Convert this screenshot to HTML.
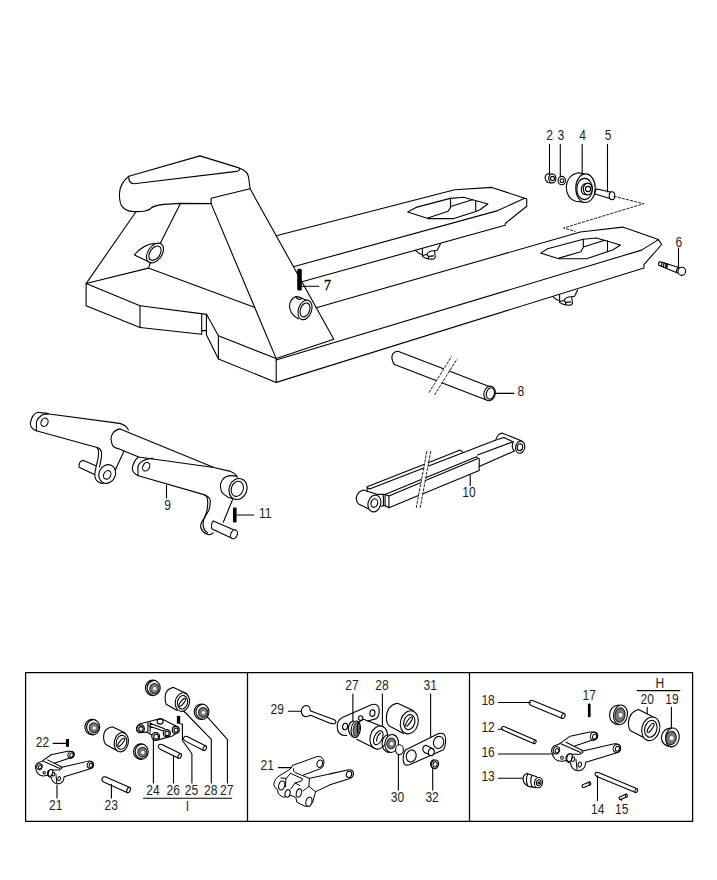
<!DOCTYPE html>
<html><head><meta charset="utf-8">
<style>
html,body{margin:0;padding:0;background:#fff;width:717px;height:880px;overflow:hidden}
svg{display:block}
.l{fill:none;stroke:#000;stroke-width:1.1;stroke-linejoin:round;stroke-linecap:round}
.t{font-family:"Liberation Sans",sans-serif;font-size:14px;fill:#1e1e1e}
.s{font-family:"Liberation Serif",serif;font-size:14px;fill:#1e1e1e}
.d{fill:none;stroke:#222;stroke-width:1;stroke-dasharray:2.4 1.8}
</style></head><body>
<svg width="717" height="880" viewBox="0 0 717 880">
<g id="truck" class="l">
<!-- handle -->
<path d="M128.8,176.3 L199.9,155.9 L239,167.9 Q248,171 248.5,177 L250.1,188.8"/>
<path d="M128.8,176.3 Q128.2,183.3 134,183.8 L236.8,171.4 Q241,170 239.2,168.3"/>
<path d="M128.8,176.3 Q120,183 119.4,194 Q119.5,205 123,207.5 Q127,211.5 134.5,211.6 Q146,212 150,209 Q153,205.5 163.7,204.4 L180.4,203.4 L211.1,203.6"/>
<path d="M211.1,203.6 L211.1,198.3 L250.1,188.8"/>
<!-- left pillar -->
<path d="M135.8,212 L86.1,283.6"/>
<path d="M180.4,203.6 L159.9,244.1"/>
<path d="M154.3,243.4 Q143,244.5 134.4,254.9 L148.7,261.8"/>
<ellipse cx="155" cy="253" rx="7" ry="11" transform="rotate(35 155 253)" fill="#fff"/>
<ellipse cx="155" cy="253.2" rx="5" ry="8" transform="rotate(35 155 253.2)"/>
<path d="M150.5,262.5 L148.4,268.1"/>
<!-- right pillar -->
<path d="M211.1,203.6 L276.2,358.6"/>
<path d="M250.1,188.8 L333.8,339.2 L276.2,358.6"/>
<!-- base block -->
<path d="M86.1,283.5 L148.3,268.1 L254.3,307.2"/>
<path d="M86.1,283.5 L86.1,305.8 L140,327.5 L140,305.8 L86.1,283.5"/>
<path d="M140,305.8 L206.6,314.4 M201.7,313.7 L201.7,334.3 L140,327.5"/>
<path d="M206.4,314.4 L206.4,334.7 L218.4,359 L218.4,335.8 L206.6,314.4 M201.7,330.6 L206.4,330.6"/>
<path d="M218.4,335.8 L276.2,358.6 M218.4,359 L276.2,382.4 L276.2,358.6"/>
<!-- back fork -->
<path d="M276.2,235.8 L454.7,189.8 L491.8,187.4 L524.6,198.3 L526.7,198.8 L526.7,206.2 L505.5,223.2 L505.1,225.3 L302,281.7"/>
<path d="M294.2,266.5 L497.8,210.6 L524.6,198.3"/>
<path d="M407.7,212 L416,207.4 L450.2,198.4 L463.5,197.3 L487.9,204 L480.2,209.5 L476,211.6 L453.7,218.6 L427.9,218.6 Z"/>
<path d="M427.9,217.9 L448.1,211.2 L450.5,207.4 L450.5,198.4 M450.5,206.5 L472.5,199.8 M475.7,200.5 L475.7,211.6"/>
<!-- front fork -->
<path d="M316.3,307.8 L580.3,232 L622.7,227.1 L658.4,239.6 L661.7,244.5 L643.9,264.6 L643.9,268 L276.3,382.4"/>
<path d="M276.2,360 L641.6,250.1 L658.4,239.6"/>
<path d="M540.6,253.1 L547.6,248.7 L583.3,239.3 L596.5,238 L620.4,245 L612.8,250 L607.2,251.8 L586.5,258.8 L558.8,258.8 Z"/>
<path d="M558.8,258.1 L580.8,251.8 L583.3,247.5 L583.3,239.3 M583.3,247.1 L604.7,240.3 M607.5,240.6 L607.5,251.8"/>
<!-- wheel brackets -->
<path d="M415.6,250.6 Q419,254 422.4,254.7 M422.4,248.6 L422.4,256.4 Q425,258.5 428.4,258.9 L433.4,259.2 Q436,257.5 435.1,255.9 L434.5,250.8 L437.3,250.3 L440.4,244.1 M422.4,255.5 L426.7,254.5 Q429,250.5 434.5,250.8 M426.7,254.5 Q429,256 428.4,258.9 M429,256.4 L433.4,255.9"/>
<path transform="translate(137.2,46)" d="M415.6,250.6 Q419,254 422.4,254.7 M422.4,248.6 L422.4,256.4 Q425,258.5 428.4,258.9 L433.4,259.2 Q436,257.5 435.1,255.9 L434.5,250.8 L437.3,250.3 L440.4,244.1 M422.4,255.5 L426.7,254.5 Q429,250.5 434.5,250.8 M426.7,254.5 Q429,256 428.4,258.9 M429,256.4 L433.4,255.9"/>
<!-- hole on right pillar -->
<path d="M309.3,301.5 L302.3,298.4 Q299,296.5 296,296.6 Q290.5,298 289.4,306 Q290,315 298.8,318.9"/>
<path d="M296,296.6 Q296,298.5 298.5,299.3 Q301,299.5 302.3,298.4"/>
<ellipse cx="305" cy="309.9" rx="6.6" ry="10.1" transform="rotate(20 305 309.9)" fill="#fff"/>
<ellipse cx="305" cy="309.9" rx="4.6" ry="7.2" transform="rotate(20 305 309.9)"/>
</g>

<g id="parts" class="l">
<!-- part 2 nut -->
<path d="M550,173.9 L547.3,173.9 Q545,175 545,177.8 Q545.3,181 547.8,182.5 L551,182.9"/>
<ellipse cx="552.3" cy="178.4" rx="3.6" ry="4.5" fill="#fff"/>
<circle cx="552.5" cy="178.5" r="2.1"/>
<!-- part 3 washer -->
<ellipse cx="561.8" cy="180.6" rx="3.7" ry="4.2"/>
<circle cx="562" cy="180.7" r="1.9"/>
<!-- part 4 wheel -->
<path d="M584,173.9 L577.9,172.8 Q567,175 566.2,187.3 Q567,199 575.7,201.3 L585,202.4"/>
<ellipse cx="585.5" cy="188.2" rx="9.75" ry="14.3" fill="#fff"/>
<ellipse cx="584.6" cy="189" rx="7.8" ry="10.6"/>
<ellipse cx="587.8" cy="189" rx="4.5" ry="5.9"/>
<path d="M586.5,183.2 Q581.5,184 581.3,189.5 Q581.5,195 586.5,194.8"/>
<circle cx="588" cy="189" r="2.6"/>
<!-- part 5 axle -->
<path d="M596.9,189 L611.4,192.3 M595.2,194 L609.7,198.5 M596.9,189 Q594,191 595.2,194"/>
<ellipse cx="612" cy="195.7" rx="2.8" ry="3.9" fill="#fff"/>
<!-- dashed -->
<path class="d" d="M614,196.3 L643.8,203.7 L563.5,228 L575.2,231.3"/>
<!-- part 6 bolt -->
<path d="M660.1,261.8 L679,267.5 M658.8,265.2 L677.5,273 M660.1,261.8 Q658,262.5 658.8,265.2"/>
<path d="M662.2,262.3 L661.3,266 M664.2,262.9 L663.3,266.8 M666.3,263.5 L665.4,267.7 M667.5,263.9 L666.8,268.2" style="stroke-width:1.2"/>
<path d="M679,267.3 Q676,268.5 676.6,272.5"/>
<ellipse cx="681.8" cy="271.3" rx="3.8" ry="4.1" fill="#fff"/>
<!-- part 8 pipe -->
<path d="M397.9,351.2 Q391,352 392,359 Q393,363 394.5,364.5"/>
<path d="M397.9,351.2 L443.5,368.8 M449.2,371 L490.5,387 M394.5,364.5 L436,380.5 M441.7,382.7 L487.1,400.3"/>
<path class="d" d="M429.1,392.4 L451.4,356.7 M434.7,394.7 L457,359" stroke-dasharray="3 1.5"/>
<ellipse cx="489.6" cy="393.4" rx="5.6" ry="7.4" transform="rotate(15 489.6 393.4)" fill="#fff"/>
<ellipse cx="490.4" cy="393.4" rx="4" ry="5.8" transform="rotate(15 490.4 393.4)"/>
<!-- part 9 lever -->
<path d="M47.3,413.4 L37.8,412.3 Q32,414 30.3,423.4 Q30.5,428.5 36.2,430.7"/>
<path d="M48.4,413.9 Q42,414 40.6,416.2 Q36.5,419 36.4,422.9 L36.4,430.7"/>
<ellipse cx="44.5" cy="422.3" rx="3.4" ry="4.3" transform="rotate(28 44.5 422.3)"/>
<path d="M47.3,413.7 L119.6,423.4 Q126,425 128.4,430"/>
<path d="M36.2,430.7 L96.3,447.3 Q100,448 101.2,451 Q102,454 101.3,458.1 L99.6,467"/>
<path d="M97.2,448.2 Q98.8,450 98.6,452.5 L98.1,458.1 L95.8,468.1 Q94.5,474 94.9,476 Q95.5,480.5 98.5,482 Q101,483.5 103,483.5"/>
<path d="M83.6,460.4 L95.8,465.8 M79.1,467.2 L94.5,474.5 M83.6,460.4 Q81,460.5 79.8,462.5 Q78.5,465.5 79.1,467.2"/>
<ellipse cx="107.2" cy="474" rx="8.2" ry="9.6" transform="rotate(25 107.2 474)" fill="#fff"/>
<ellipse cx="107.2" cy="474.9" rx="3.5" ry="4.5" transform="rotate(30 107.2 474.9)"/>
<path d="M115.3,469.9 L123.9,451.3"/>
<!-- tube -->
<path d="M120.1,428.9 Q112.5,430 111,438 Q111.5,445 113.5,446.5 Q115,448 118,448.6 L137.5,456.5"/>
<path d="M120.1,428.9 L213.9,467.5 L230.5,471.4 Q236,473.5 237.4,477.2"/>
<path d="M236.5,476.2 Q226,474 222.2,480.3 Q219.8,484 220.5,487.3 Q221,492.5 224,494.3 Q228,498 232.3,498.5"/>
<ellipse cx="238" cy="489" rx="8.9" ry="10.7" transform="rotate(20 238 489)" fill="#fff"/>
<ellipse cx="237.3" cy="488.8" rx="5.9" ry="7.8" transform="rotate(20 237.3 488.8)"/>
<!-- right lever -->
<path d="M138.4,457 Q133.5,461 132.3,468.4 Q132.5,473 138.4,475.7"/>
<path d="M152.9,458.4 Q146,459 143.4,460.6 Q138,463.5 137.8,467.9 L138.1,475.4"/>
<ellipse cx="146.2" cy="466.7" rx="3.3" ry="4.5" transform="rotate(28 146.2 466.7)"/>
<path d="M138.4,457 L213.9,467.5"/>
<path d="M138.4,475.7 L203.9,494.6 Q209.5,497 210.2,500 Q210.5,505 208.9,510.3 L202,521.6 Q200.3,525 200.8,527.5 Q202,532.5 208,534.5 Q211,535 213.3,532.9"/>
<path d="M203.9,494.6 Q206.5,496 207,497.7 Q208,501 207.7,504 Q207.5,509 206.4,512.8 L203.8,519.5 Q202.8,523 203.3,526.6 Q204,530.5 207.7,532.9"/>
<path d="M232.8,499 L223.3,522.2"/>
<path d="M213.3,520.9 L235.3,530.4 M212,529.1 L231.5,537.9 M213.3,520.9 Q210.5,524 212,529.1"/>
<ellipse cx="234" cy="534.3" rx="3.2" ry="4.6" transform="rotate(25 234 534.3)" fill="#fff"/>
<!-- part 10 -->
<path d="M363.2,489.9 Q357,492 356.3,497.9 Q356.5,502.5 359.1,504.2 L368.8,509.1 M363.2,489.9 L377.6,494.4 L385.1,494.4"/>
<path d="M367.1,491.4 L367.1,486.8 L424.4,464.2 M428.2,462.7 L460.2,450.1 L463.5,452.6 M367.1,487.5 L369.6,488.9 L423.7,468 M428.6,466.1 L495.9,440.1"/>
<path d="M385.1,494.4 L421.2,479.6 M426.1,477.6 L476.7,456.8 L478,458.5 M388.9,496 L420.5,482.7 M425.4,480.6 L478,458.5 M388.9,507.7 L418.4,495.6 M423,493.7 L479.2,470.6 L479.2,458.5"/>
<path d="M385.1,494.4 L388.9,496 L388.9,507.7 L385.1,505.6 Z M383.4,495.2 L383.4,505.2 M381,506.3 L385.1,505.6"/>
<path d="M477.5,455 L511.8,442.2 M479.2,466.4 L513.5,451.4 M497.6,439.6 L503.8,437.4 L512.7,441.7"/>
<path d="M495.9,440.1 Q497,434.5 501.8,433 L521.9,440.9 M513.5,441.7 Q512,444 512.3,446.8 Q512.8,449.5 514.4,451"/>
<ellipse cx="374.4" cy="503.5" rx="6.3" ry="8.5" transform="rotate(15 374.4 503.5)" fill="#fff"/>
<ellipse cx="374.4" cy="503.1" rx="3.3" ry="4.3" transform="rotate(15 374.4 503.1)"/>
<ellipse cx="520.2" cy="447.2" rx="4.6" ry="6.1" transform="rotate(10 520.2 447.2)" fill="#fff"/>
<ellipse cx="520" cy="447.2" rx="2.7" ry="3.4" transform="rotate(10 520 447.2)"/>
<path class="d" d="M416.3,507.5 L426.9,451.1 M420.2,507.5 L430.8,451.1" stroke-dasharray="3 1.5"/>
</g>
<g id="pins" fill="#000">
<rect x="297.2" y="268.8" width="4.6" height="21.7" rx="1.5"/>
<rect x="233" y="507.5" width="3.6" height="15" rx="1"/>
</g>
<g class="l">
<path d="M549.5,144.3 L549.5,173.9 M560.3,144.3 L560.3,176.4 M582.2,144.3 L582.2,173.4 M607.5,144.3 L607.5,191.8 M678.5,248 L678.5,267.7"/>
<path d="M302,286.3 L318.9,286.3 M495.6,393.4 L513.9,393.4 M166.5,485.4 L166.5,498 M470.2,474.8 L470.2,485.6 M236.8,515 L253.7,515"/>
</g>
<g class="l">
<rect x="25.6" y="672.5" width="667" height="148.8" style="stroke-width:1.25"/>
<path d="M247.5,672.5 L247.5,821.3 M469.5,672.5 L469.5,821.3" style="stroke-width:1.25"/>
<ellipse cx="152.80" cy="687.90" rx="7.40" ry="7.75" fill="#fff" />
<path d="M153.80,680.35 Q147.60,681.70 147.00,687.90 Q147.60,694.10 153.80,695.45" />
<ellipse cx="154.40" cy="688.50" rx="4.59" ry="4.96" fill="#777777" style="stroke:#222"/>
<ellipse cx="154.70" cy="688.70" rx="1.60" ry="1.70" fill="#fff" style="stroke:none"/>
<ellipse cx="92.30" cy="727.10" rx="7.40" ry="7.75" fill="#fff" />
<path d="M93.30,719.55 Q87.10,720.90 86.50,727.10 Q87.10,733.30 93.30,734.65" />
<ellipse cx="93.90" cy="727.70" rx="4.59" ry="4.96" fill="#777777" style="stroke:#222"/>
<ellipse cx="94.20" cy="727.90" rx="1.60" ry="1.70" fill="#fff" style="stroke:none"/>
<ellipse cx="140.90" cy="751.60" rx="7.40" ry="7.75" fill="#fff" />
<path d="M141.90,744.05 Q135.70,745.40 135.10,751.60 Q135.70,757.80 141.90,759.15" />
<ellipse cx="142.50" cy="752.20" rx="4.59" ry="4.96" fill="#777777" style="stroke:#222"/>
<ellipse cx="142.80" cy="752.40" rx="1.60" ry="1.70" fill="#fff" style="stroke:none"/>
<ellipse cx="201.60" cy="711.80" rx="7.40" ry="7.75" fill="#fff" />
<path d="M202.60,704.25 Q196.40,705.60 195.80,711.80 Q196.40,718.00 202.60,719.35" />
<ellipse cx="203.20" cy="712.40" rx="4.59" ry="4.96" fill="#777777" style="stroke:#222"/>
<ellipse cx="203.50" cy="712.60" rx="1.60" ry="1.70" fill="#fff" style="stroke:none"/>
<path d="M124.9,732.7 L112.2,726.8 Q104,728.5 103.6,736.3 Q103.5,742 105.9,744.5 L117.2,750.8" />
<ellipse cx="121.30" cy="742.20" rx="7.00" ry="9.75" transform="rotate(12 121.30 742.20)" fill="#fff" />
<ellipse cx="121.50" cy="742.30" rx="5.20" ry="7.00" transform="rotate(12 121.50 742.30)" />
<ellipse cx="121.20" cy="742.40" rx="1.60" ry="5.00" transform="rotate(38 121.20 742.40)" />
<path d="M186,693.2 L173.5,687.4 Q165.5,689 165.1,696.8 Q165,702 166.2,704.2 L177.1,710.4" />
<ellipse cx="182.40" cy="702.10" rx="7.10" ry="9.40" transform="rotate(12 182.40 702.10)" fill="#fff" />
<ellipse cx="182.50" cy="702.30" rx="5.00" ry="6.80" transform="rotate(12 182.50 702.30)" />
<ellipse cx="182.30" cy="702.40" rx="1.60" ry="4.80" transform="rotate(38 182.30 702.40)" />
<path d="M106.44,777.14 L129.74,787.54 M104.16,782.26 L127.46,792.66 M106.44,777.14 Q103.00,775.92 102.23,778.33 Q100.95,780.52 104.16,782.26" />
<ellipse cx="128.60" cy="790.10" rx="1.68" ry="2.80" transform="rotate(24.053687909914867 128.60 790.10)" fill="#fff" />
<path d="M162.42,744.66 L180.82,753.86 M160.18,749.14 L178.58,758.34 M162.42,744.66 Q159.40,743.43 158.62,745.56 Q157.39,747.46 160.18,749.14" />
<ellipse cx="179.70" cy="756.10" rx="1.50" ry="2.50" transform="rotate(26.565051177078132 179.70 756.10)" fill="#fff" />
<path d="M187.64,736.68 L205.94,746.08 M185.36,741.12 L203.66,750.52 M187.64,736.68 Q184.64,735.41 183.83,737.53 Q182.58,739.42 185.36,741.12" />
<ellipse cx="204.80" cy="748.30" rx="1.50" ry="2.50" transform="rotate(27.187806864284237 204.80 748.30)" fill="#fff" />
<g transform="translate(39.30,766.50) scale(0.0977) translate(-90,-220)" style="stroke-width:10.24">
<path d="M120,165 L210,100 L380,65 Q440,60 448,95 Q450,130 395,135 L250,185"/>
<path d="M130,165 L300,240 M175,152 L320,225"/>
<path d="M310,230 L590,165 Q640,160 645,200 Q645,235 620,240 L345,325"/>
<path d="M120,165 Q90,175 70,185 Q40,210 55,245 Q62,290 100,310 Q140,325 185,305"/>
<path d="M185,260 Q165,285 180,315 Q200,335 215,330 Q215,375 260,395 Q310,405 335,365 L345,325"/>
<path d="M205,255 L300,255 L320,240"/>
<path d="M260,300 L270,390"/>
<ellipse cx="415" cy="100" rx="31" ry="36" transform="rotate(20 415 100)"/>
<ellipse cx="420" cy="104" rx="17" ry="21" transform="rotate(20 420 104)"/>
<ellipse cx="612" cy="205" rx="31" ry="36" transform="rotate(20 612 205)"/>
<ellipse cx="617" cy="209" rx="17" ry="21" transform="rotate(20 617 209)"/>
<ellipse cx="92" cy="222" rx="27" ry="32" transform="rotate(20 92 222)"/>
<ellipse cx="97" cy="226" rx="15" ry="19" transform="rotate(20 97 226)"/>
<ellipse cx="205" cy="285" rx="22" ry="35" transform="rotate(15 205 285)" fill="#fff"/>
<ellipse cx="235" cy="298" rx="13" ry="20" transform="rotate(15 235 298)"/>
<ellipse cx="140" cy="285" rx="12" ry="13"/>
<ellipse cx="293" cy="345" rx="14" ry="22" transform="rotate(15 293 345)"/>
</g>
<path d="M136.7,727.6 Q138,724 142.3,723.2 L149,721.5 L157.9,719.3 Q161,718 163.5,719.8 L176.9,726.5" />
<path d="M136.7,727.6 Q136,731.5 138.9,732.6 L146.7,732.1 L151.8,734.9" />
<path d="M151.8,734.9 Q153,739.5 157.9,739.9 L172.4,736 L178,732.1 Q180.5,728 176.9,726.5" />
<path d="M150.1,723.2 L164.6,728.7 M149,726 L163.5,731 M147.9,722.6 L147.9,731.5 M150.1,722 L150.1,732" />
<ellipse cx="140.60" cy="728.70" rx="3.80" ry="3.80" />
<ellipse cx="141.00" cy="728.90" rx="2.20" ry="2.30" />
<ellipse cx="160.10" cy="721.50" rx="3.00" ry="2.60" />
<ellipse cx="155.70" cy="736.50" rx="3.90" ry="3.90" fill="#fff" />
<ellipse cx="156.10" cy="736.70" rx="2.30" ry="2.40" />
<ellipse cx="166.80" cy="733.20" rx="3.60" ry="3.60" fill="#fff" />
<ellipse cx="167.10" cy="733.40" rx="2.10" ry="2.20" />
<ellipse cx="175.70" cy="729.90" rx="3.50" ry="3.50" fill="#fff" />
<ellipse cx="176.00" cy="730.10" rx="2.00" ry="2.10" />
<path d="M53.1,743.4 L66.5,743.4 M57,785 L57,798 M111.4,784.4 L111.4,798 M153.4,738.8 L153.4,783 M173.5,756.1 L173.5,783 M180.2,723.7 L182.4,724.3 L182.4,740.5 L191.9,753.8 L191.9,783 M183.7,711 L211.3,739.4 L211.3,783 M207.5,717.2 L227.4,739.4 L227.4,783 M143.5,798.2 L231.7,798.2" />
</g>
<g fill="#000"><rect x="66" y="739" width="3" height="7.8"/><rect x="176.9" y="715.9" width="3.3" height="7.8"/><rect x="587.9" y="703.6" width="2.7" height="13.6" rx="1"/></g>
<g class="l">
<path d="M310.1,709.5 Q309.8,711 311.4,711.2 L334.4,719.7 Q337,721.5 335.2,723.2 Q333.5,724.3 330.6,723.4 L310.6,715.2 Q309,715.8 308,716.3 Q305,717.5 302.5,715 Q300.8,712.5 301.5,709.5 Q303,705.5 306.5,705.5 Q310,706 310.1,709.5" />
<path d="M343.4,717 Q338,719.5 337.3,724.8 Q337,731.5 340,733.7 Q343,736 346.7,735.4 M343.4,717 L371.3,704.7 Q377.5,703 379.1,708.6 L379.1,713.1 Q378.5,717 376.3,718.6 L368,721" />
<ellipse cx="345.10" cy="726.50" rx="2.50" ry="3.30" transform="rotate(10 345.10 726.50)" />
<ellipse cx="372.40" cy="713.10" rx="2.50" ry="3.30" transform="rotate(10 372.40 713.10)" />
<ellipse cx="360.70" cy="718.10" rx="2.20" ry="2.40" />
<path d="M353.4,720.9 Q349,722 348.4,728.1 Q348.5,735.5 354.5,737.6" />
<ellipse cx="355.80" cy="729.30" rx="4.60" ry="8.30" transform="rotate(8 355.80 729.30)" fill="#fff" />
<ellipse cx="356.30" cy="729.30" rx="3.00" ry="6.80" transform="rotate(8 356.30 729.30)" fill="#777777" style="stroke:#333;stroke-width:1.2"/>
<path d="M363.5,719.2 L383.6,727 M356.8,739.3 L374.6,748.2 M363.5,719.2 Q358,721.5 357.3,725.9 L357.6,733" />
<ellipse cx="378.80" cy="737.60" rx="8.65" ry="11.70" transform="rotate(15 378.80 737.60)" fill="#fff" />
<ellipse cx="378.30" cy="737.70" rx="4.00" ry="7.40" transform="rotate(25 378.30 737.70)" />
<path d="M376.5,741 Q377,735 380.5,733" />
<path d="M388,734.5 Q382.5,736 382,743.5 Q382.5,751.5 389,752.6" />
<ellipse cx="391.70" cy="743.50" rx="6.80" ry="9.00" transform="rotate(8 391.70 743.50)" fill="#fff" />
<ellipse cx="391.20" cy="743.40" rx="4.40" ry="5.40" transform="rotate(8 391.20 743.40)" fill="#777777" style="stroke:#222"/>
<ellipse cx="391.70" cy="743.80" rx="1.70" ry="1.80" fill="#fff" style="stroke:none"/>
<ellipse cx="399.50" cy="749.70" rx="3.90" ry="4.90" fill="#fff" />
<path d="M413.2,710.6 L397.6,703.3 Q387,705 386.3,717.5 Q386.5,724 389.8,726.2 L403.4,733.6" />
<ellipse cx="409.30" cy="722.30" rx="8.80" ry="11.70" transform="rotate(15 409.30 722.30)" fill="#fff" />
<ellipse cx="409.30" cy="722.10" rx="5.40" ry="7.60" transform="rotate(15 409.30 722.10)" />
<ellipse cx="409.00" cy="721.40" rx="1.60" ry="5.50" transform="rotate(35 409.00 721.40)" />
<path d="M405.9,749.7 L438.6,733.6 Q445.5,731.5 445.6,740 Q445.3,747 443.5,749.7 L409.3,764.8 Q403.5,766.5 403.2,760 Q403,753 405.9,749.7 Z" />
<ellipse cx="411.20" cy="756.00" rx="4.90" ry="6.10" transform="rotate(15 411.20 756.00)" />
<ellipse cx="438.60" cy="742.40" rx="5.10" ry="6.10" transform="rotate(15 438.60 742.40)" />
<path d="M425.9,745.3 L433.2,748.7 M426.9,753.6 L430.8,755 M425.9,745.3 Q422,746.5 423,750.5 Q424,753 426.9,753.6" />
<ellipse cx="431.30" cy="752.10" rx="2.90" ry="3.60" transform="rotate(15 431.30 752.10)" fill="#fff" />
<path d="M434,759.9 Q430.3,760.5 430.6,764.3 Q431,768.3 434.5,768.7" />
<ellipse cx="435.00" cy="764.30" rx="3.60" ry="4.40" transform="rotate(15 435.00 764.30)" fill="#fff" />
<ellipse cx="435.10" cy="764.30" rx="2.00" ry="2.70" transform="rotate(15 435.10 764.30)" />
<g transform="translate(270,752) scale(0.08368)" style="stroke-width:11.95">
<path d="M270,160 L560,55 Q640,45 645,120 Q640,195 590,205 L400,275"/>
<path d="M280,200 Q275,235 300,245 L470,315 L717,262"/>
<path d="M270,160 L240,205 L120,280 Q50,320 45,390 Q50,430 90,450 L95,490 Q110,520 160,540 L250,520 Q290,530 310,545 L320,600 L420,650 Q480,655 510,600 L545,475 L717,392"/>
<path d="M470,315 L465,410 L545,475"/>
<path d="M245,255 L390,320 L380,345 L300,370 L250,440 M300,370 L355,400 M130,310 L190,315 L185,415 M245,255 L190,320"/>
<path d="M395,465 L465,410"/>
<ellipse cx="595" cy="140" rx="33" ry="45" transform="rotate(15 595 140)" fill="#fff"/>
<ellipse cx="140" cy="400" rx="35" ry="55" transform="rotate(15 140 400)" fill="#fff"/>
<ellipse cx="210" cy="495" rx="30" ry="45" transform="rotate(15 210 495)" fill="#fff"/>
<ellipse cx="345" cy="490" rx="30" ry="50" transform="rotate(15 345 490)" fill="#fff"/>
<ellipse cx="465" cy="595" rx="35" ry="55" transform="rotate(15 465 595)" fill="#fff"/>
</g>
<path d="M330,773.9 L348.7,769.8 Q353,769.5 353.5,773.5 Q353.5,777 350,778.5 L330,784.8" />
<ellipse cx="349.00" cy="774.30" rx="2.60" ry="3.20" transform="rotate(20 349.00 774.30)" />
<path d="M288.3,711.3 L301.3,711.3 M278.4,767.6 L291.6,767.6 M352.9,694 L352.9,720.9 M382.4,694 L382.4,725.3 M430.6,694 L430.6,737 M398.4,754.6 L398.4,790.1 M432.7,767.2 L432.7,790" />
</g>
<g class="l">
<path d="M533.20,700.70 L564.30,713.60 M531.20,705.50 L562.30,718.40 M533.20,700.70 Q529.97,699.64 529.32,701.90 Q528.18,703.97 531.20,705.50" />
<ellipse cx="563.30" cy="716.00" rx="1.56" ry="2.60" transform="rotate(22.528233667561125 563.30 716.00)" fill="#fff" />
<path d="M504.76,726.76 L535.66,740.16 M503.24,730.24 L534.14,743.64 M504.76,726.76 Q502.41,725.95 501.91,727.59 Q501.05,729.09 503.24,730.24" />
<ellipse cx="534.90" cy="741.90" rx="1.14" ry="1.90" transform="rotate(23.44430190194252 534.90 741.90)" fill="#fff" />
<path d="M598.41,772.56 L637.11,788.66 M596.79,776.44 L635.49,792.54 M598.41,772.56 Q595.81,771.71 595.27,773.53 Q594.35,775.20 596.79,776.44" />
<ellipse cx="636.30" cy="790.60" rx="1.26" ry="2.10" transform="rotate(22.58832020200049 636.30 790.60)" fill="#fff" />
<path d="M583.22,784.57 L589.22,781.97 M584.38,787.23 L590.38,784.63 M583.22,784.57 Q581.55,785.45 582.20,786.59 Q582.59,787.85 584.38,787.23" />
<ellipse cx="589.80" cy="783.30" rx="0.87" ry="1.45" transform="rotate(-23.428692808745584 589.80 783.30)" fill="#fff" />
<path d="M620.21,796.68 L625.81,794.18 M621.39,799.32 L626.99,796.82 M620.21,796.68 Q618.55,797.58 619.21,798.71 Q619.61,799.96 621.39,799.32" />
<ellipse cx="626.40" cy="795.50" rx="0.87" ry="1.45" transform="rotate(-24.05734945001165 626.40 795.50)" fill="#fff" />
<path d="M536.8,776.7 L526.8,773.4 Q523,775 523,778.8 Q523.5,784.5 528.5,786.4 L536,787.6" />
<path d="M527.8,773.9 Q525.3,779.5 527.6,785.6 M532,775.3 Q529.3,781 532.2,786.9" />
<ellipse cx="538.50" cy="782.60" rx="4.00" ry="5.20" transform="rotate(12 538.50 782.60)" fill="#fff" />
<ellipse cx="538.70" cy="782.70" rx="2.30" ry="3.00" transform="rotate(12 538.70 782.70)" />
<ellipse cx="538.80" cy="782.80" rx="0.90" ry="1.00" />
<path d="M619,705 Q610,706 609.5,715.1 Q610,724 619,724.6" />
<ellipse cx="620.50" cy="714.80" rx="6.90" ry="9.80" transform="rotate(8 620.50 714.80)" fill="#fff" />
<ellipse cx="620.00" cy="715.00" rx="5.00" ry="7.20" transform="rotate(8 620.00 715.00)" fill="#777777" style="stroke:#222"/>
<ellipse cx="620.60" cy="715.10" rx="1.90" ry="2.10" fill="#fff" style="stroke:none"/>
<path d="M655.2,717.9 L638.5,709.5 Q629,712 628.4,722.9 Q628.5,729 630.7,730.7 L647.4,739.6" />
<ellipse cx="650.80" cy="728.80" rx="8.90" ry="12.00" transform="rotate(15 650.80 728.80)" fill="#fff" />
<ellipse cx="650.80" cy="728.80" rx="6.10" ry="8.60" transform="rotate(15 650.80 728.80)" />
<ellipse cx="650.60" cy="727.90" rx="1.70" ry="5.40" transform="rotate(35 650.60 727.90)" />
<path d="M671.5,727.9 Q662,729 661.3,737.4 Q662,746 671.5,746.9" />
<ellipse cx="672.40" cy="737.40" rx="6.80" ry="9.50" transform="rotate(8 672.40 737.40)" fill="#fff" />
<ellipse cx="671.10" cy="738.00" rx="5.20" ry="6.70" transform="rotate(8 671.10 738.00)" fill="#777777" style="stroke:#222"/>
<ellipse cx="671.60" cy="738.20" rx="1.90" ry="2.10" fill="#fff" style="stroke:none"/>
<g transform="translate(556.20,750.10) scale(0.1162) translate(-90,-220)" style="stroke-width:8.61">
<path d="M120,165 L210,100 L380,65 Q440,60 448,95 Q450,130 395,135 L250,185"/>
<path d="M130,165 L300,240 M175,152 L320,225"/>
<path d="M310,230 L590,165 Q640,160 645,200 Q645,235 620,240 L345,325"/>
<path d="M120,165 Q90,175 70,185 Q40,210 55,245 Q62,290 100,310 Q140,325 185,305"/>
<path d="M185,260 Q165,285 180,315 Q200,335 215,330 Q215,375 260,395 Q310,405 335,365 L345,325"/>
<path d="M205,255 L300,255 L320,240"/>
<path d="M260,300 L270,390"/>
<ellipse cx="415" cy="100" rx="31" ry="36" transform="rotate(20 415 100)"/>
<ellipse cx="420" cy="104" rx="17" ry="21" transform="rotate(20 420 104)"/>
<ellipse cx="612" cy="205" rx="31" ry="36" transform="rotate(20 612 205)"/>
<ellipse cx="617" cy="209" rx="17" ry="21" transform="rotate(20 617 209)"/>
<ellipse cx="92" cy="222" rx="27" ry="32" transform="rotate(20 92 222)"/>
<ellipse cx="97" cy="226" rx="15" ry="19" transform="rotate(20 97 226)"/>
<ellipse cx="205" cy="285" rx="22" ry="35" transform="rotate(15 205 285)" fill="#fff"/>
<ellipse cx="235" cy="298" rx="13" ry="20" transform="rotate(15 235 298)"/>
<ellipse cx="140" cy="285" rx="12" ry="13"/>
<ellipse cx="293" cy="345" rx="14" ry="22" transform="rotate(15 293 345)"/>
</g>
<path d="M498.3,702.5 L530.7,702.5 M498.3,729.3 L502.8,729.3 M498.5,754 L553.6,754 M498.3,778.2 L523,778.2 M637.2,690.6 L679.9,690.6 M647.2,707.3 L647.2,713.4 M671.4,707.3 L671.4,728.5 M597.5,775.7 L597.5,800.5 M621.4,798.7 L621.4,800.5" />
</g>
<text class="t" transform="translate(546.3,139.7) scale(0.86,1)" style="font-size:14.0px">2</text>
<text class="t" transform="translate(557.6,139.7) scale(0.86,1)" style="font-size:14.0px">3</text>
<text class="t" transform="translate(579.3,139.7) scale(0.86,1)" style="font-size:14.0px">4</text>
<text class="t" transform="translate(604.7,139.7) scale(0.86,1)" style="font-size:14.0px">5</text>
<text class="t" transform="translate(675.5,247.2) scale(0.86,1)" style="font-size:14.0px">6</text>
<text class="t" transform="translate(517.6,395.8) scale(0.86,1)" style="font-size:14.0px">8</text>
<text class="t" transform="translate(164.3,509.5) scale(0.86,1)" style="font-size:14.0px">9</text>
<text class="t" transform="translate(462.2,496.7) scale(0.86,1)" style="font-size:14.0px">10</text>
<text class="t" transform="translate(258.9,518.0) scale(0.86,1)" style="font-size:14.0px">11</text>
<text class="t" transform="translate(35.8,746.5) scale(0.86,1)" style="font-size:14.0px">22</text>
<text class="t" transform="translate(49.0,810.0) scale(0.86,1)" style="font-size:14.0px">21</text>
<text class="t" transform="translate(104.6,810.0) scale(0.86,1)" style="font-size:14.0px">23</text>
<text class="t" transform="translate(146.3,795.0) scale(0.86,1)" style="font-size:14.0px">24</text>
<text class="t" transform="translate(166.6,795.0) scale(0.86,1)" style="font-size:14.0px">26</text>
<text class="t" transform="translate(184.8,795.0) scale(0.86,1)" style="font-size:14.0px">25</text>
<text class="t" transform="translate(204.1,795.0) scale(0.86,1)" style="font-size:14.0px">28</text>
<text class="t" transform="translate(220.1,795.0) scale(0.86,1)" style="font-size:14.0px">27</text>
<text class="t" transform="translate(270.5,714.0) scale(0.86,1)" style="font-size:14.0px">29</text>
<text class="t" transform="translate(345.2,690.3) scale(0.86,1)" style="font-size:14.0px">27</text>
<text class="t" transform="translate(375.3,690.3) scale(0.86,1)" style="font-size:14.0px">28</text>
<text class="t" transform="translate(423.5,690.3) scale(0.86,1)" style="font-size:14.0px">31</text>
<text class="t" transform="translate(260.5,770.0) scale(0.86,1)" style="font-size:14.0px">21</text>
<text class="t" transform="translate(390.7,802.4) scale(0.86,1)" style="font-size:14.0px">30</text>
<text class="t" transform="translate(425.4,802.4) scale(0.86,1)" style="font-size:14.0px">32</text>
<text class="t" transform="translate(481.4,705.4) scale(0.86,1)" style="font-size:14.0px">18</text>
<text class="t" transform="translate(481.4,732.4) scale(0.86,1)" style="font-size:14.0px">12</text>
<text class="t" transform="translate(481.4,757.2) scale(0.86,1)" style="font-size:14.0px">16</text>
<text class="t" transform="translate(481.4,781.3) scale(0.86,1)" style="font-size:14.0px">13</text>
<text class="t" transform="translate(582.6,699.9) scale(0.86,1)" style="font-size:14.0px">17</text>
<text class="t" transform="translate(655.5,688.1) scale(0.86,1)" style="font-size:14.0px">H</text>
<text class="t" transform="translate(640.6,703.6) scale(0.86,1)" style="font-size:14.0px">20</text>
<text class="t" transform="translate(665.2,703.6) scale(0.86,1)" style="font-size:14.0px">19</text>
<text class="t" transform="translate(591.0,813.8) scale(0.86,1)" style="font-size:14.0px">14</text>
<text class="t" transform="translate(615.1,813.8) scale(0.86,1)" style="font-size:14.0px">15</text>
<text class="s" x="324" y="289.8" style="font-size:14px;fill:#000;stroke:#000;stroke-width:0.35">7</text>
<text class="t" transform="translate(185.8,811) scale(0.86,1)" style="font-size:14px">I</text>
</svg>
</body></html>
